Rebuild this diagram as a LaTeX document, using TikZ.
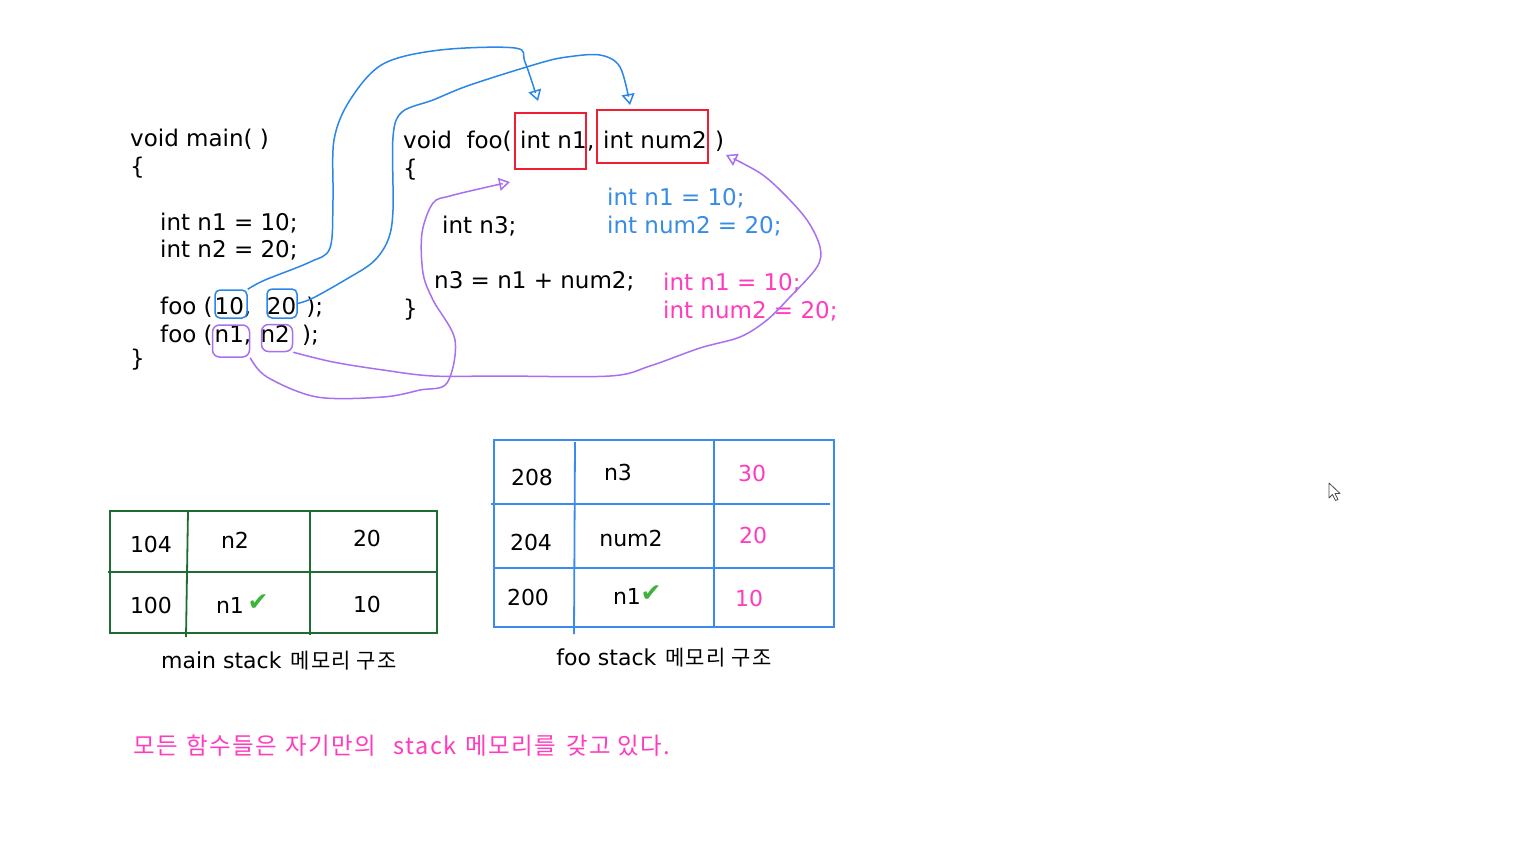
\documentclass[tikz,border=0pt]{standalone}
\usepackage{fontspec}
\setmainfont{DejaVu Sans}
\newfontfamily\krfont{Noto Sans CJK KR}
\newfontfamily\krwide[LetterSpace=6]{Noto Sans CJK KR}
\usetikzlibrary{arrows.meta}
\definecolor{bline}{RGB}{42,134,232}
\definecolor{tblue}{RGB}{58,138,240}
\definecolor{btext}{RGB}{55,140,228}
\definecolor{mag}{RGB}{255,60,190}
\definecolor{purp}{RGB}{168,112,240}
\definecolor{rbox}{RGB}{240,30,50}
\definecolor{gtab}{RGB}{30,108,52}
\definecolor{chk}{RGB}{60,180,60}
\begin{document}
\begin{tikzpicture}[x=1pt,y=-1pt,
  code/.style={font=\fontsize{23}{28}\selectfont, anchor=base west, inner sep=0pt},
  cell/.style={font=\fontsize{22}{26}\selectfont, inner sep=0pt},
  captxt/.style={font=\fontsize{22}{26}\selectfont, inner sep=0pt},
  redbox/.style={draw=rbox, line width=1.5pt, inner sep=0pt},
  bbox/.style={draw=bline, line width=1.5pt, rounded corners=5pt, inner sep=0pt},
  pbox/.style={draw=purp, line width=1.5pt, rounded corners=7pt, inner sep=0pt},
  bcurve/.style={draw=bline, line width=1.5pt, -{Triangle[open,length=11pt,width=13pt]}},
  pcurve/.style={draw=purp, line width=1.5pt, -{Triangle[open,length=11pt,width=13pt]}},
  gline/.style={draw=gtab, line width=1.8pt},
  tline/.style={draw=tblue, line width=1.8pt},
  ck/.style={font=\fontsize{25}{28}\selectfont, text=chk, inner sep=0pt}
]
\fill[white] (0,0) rectangle (1526,852);
\useasboundingbox (0,0) rectangle (1526,852);

% main code
\node[code] (m1) at (130,146) {void main( )};
\node[code] (m2) at (130,174) {\{};
\node[code] (m3) at (160,230) {int n1 = 10;};
\node[code] (m4) at (160,257) {int n2 = 20;};
\node[code] (m5) at (160,314) {foo (\hspace{2pt}10,\ \ \hspace{1pt}20\ \hspace{3pt});};
\node[code] (m6) at (160,342) {foo (\hspace{2pt}n1,\hspace{2pt} n2\ \hspace{5pt});};
\node[code] (m7) at (130,366) {\}};

% foo code
\node[code] (f1) at (403,148) {void\ \ foo(};
\node[redbox, minimum width=71pt, minimum height=56pt] (p1) at (550.5,141) {};
\node[code] (p1t) at (520,148) {int n1};
\node[code] (fc) at (587,148) {,};
\node[redbox, minimum width=111pt, minimum height=53pt] (p2) at (652.5,136.5) {};
\node[code] (p2t) at (603,148) {int num2};
\node[code] (fr) at (715,148) {)};
\node[code] (f2) at (403,176) {\{};
\node[code] (f3) at (442,233) {int n3;};
\node[code] (f4) at (434,288) {n3 = n1 + num2;};
\node[code] (f5) at (403,316) {\}};

\node[code, text=btext] (b1) at (607,205) {int n1 = 10;};
\node[code, text=btext] (b2) at (607,233) {int num2 = 20;};
\node[code, text=mag] (g1) at (663,290) {int n1 = 10;};
\node[code, text=mag] (g2) at (663,318) {int num2 = 20;};

% argument boxes
\node[bbox, minimum width=32pt, minimum height=28pt] (a10) at (231,304) {};
\node[bbox, minimum width=30pt, minimum height=29pt] (a20) at (282,303.5) {};
\node[pbox, minimum width=37pt, minimum height=32pt] (an1) at (231,341) {};
\node[pbox, minimum width=31pt, minimum height=27pt] (an2) at (277,338) {};

\coordinate (t1) at (538,101);
\coordinate (t2) at (630,105);
\coordinate (t3) at (510,182);
\coordinate (t4) at (726,155);

\draw[bcurve] plot[smooth, tension=0.55] coordinates {(a10.north east) (265,280) (310,262) (330,248) (333,200) (334,140) (350,100) (383,64) (440,50) (515,48) (525,62) (t1)};
\draw[bcurve] plot[smooth, tension=0.55] coordinates {(a20.east) (313,298) (345,280) (373,262) (388,240) (393,210) (393,137) (402,112) (433,100) (470,85) (540,63) (567,57) (600,55) (620,67) (t2)};
\draw[pcurve] plot[smooth, tension=0.55] coordinates {(an1.south east) (267,377) (317,397) (383,397) (420,390) (447,383) (455,340) (433,300) (423,273) (422,233) (433,203) (450,196) (483,188) (t3)};
\draw[pcurve] plot[smooth, tension=0.55] coordinates {(an2.south east) (333,362) (383,370) (433,376) (500,376) (610,376) (650,366) (700,348) (740,337) (767,320) (790,297) (817,267) (820,247) (807,220) (783,193) (760,173) (t4)};

% main stack table
\draw[gline] (110,511) rectangle (437,633);
\draw[gline] (108,572) -- (437,572);
\draw[gline] (188,511) -- (186,637);
\draw[gline] (310,511) -- (310,635);
\node[cell] (c104) at (151,544) {104};
\node[cell] (cn2) at (235,540) {n2};
\node[cell] (c20) at (367,538) {20};
\node[cell] (c100) at (151,605) {100};
\node[cell] (cn1) at (230,605) {n1};
\node[ck] (k1) at (258,603) {✔};
\node[cell] (c10) at (367,604) {10};
\node[captxt] (cap1) at (279,661) {main stack\hspace{2pt} {\krwide\fontsize{21}{24}\selectfont 메모리 구조}};

% foo stack table
\draw[tline] (494,440) rectangle (834,627);
\draw[tline] (491,504) -- (830,504);
\draw[tline] (494,568) -- (834,568);
\draw[tline] (575,442) -- (574,634);
\draw[tline] (714,440) -- (714,627);
\node[cell] (d208) at (532,477) {208};
\node[cell] (dn3) at (618,472) {n3};
\node[cell, text=mag] (d30) at (752,473) {30};
\node[cell] (d204) at (531,542) {204};
\node[cell] (dnum) at (631,538) {num2};
\node[cell, text=mag] (d20) at (753,535) {20};
\node[cell] (d200) at (528,597) {200};
\node[cell] (dn1) at (627,596) {n1};
\node[ck] (k2) at (651,594) {✔};
\node[cell, text=mag] (d10) at (749,598) {10};
\node[captxt] (cap2) at (664,658) {foo stack\hspace{2pt} {\krwide\fontsize{21}{24}\selectfont 메모리 구조}};

% bottom sentence
\node[anchor=base west, inner sep=0pt, text=mag, font=\krwide\fontsize{23.5}{27}\selectfont] (note) at (133,754) {모든\hspace{2pt} 함수들은\hspace{2pt} 자기만의\ \ \hspace{4pt}stack\hspace{2pt} 메모리를\hspace{4pt} 갖고 있다.};

% mouse cursor
\draw[fill=white, draw=black!70, line width=0.8pt, line join=round]
  (1329,483) -- (1329,498) -- (1332.5,494.5) -- (1335.5,500.5) -- (1338,499.5) -- (1335,493.5) -- (1340,493.5) -- cycle;
\end{tikzpicture}
\end{document}
